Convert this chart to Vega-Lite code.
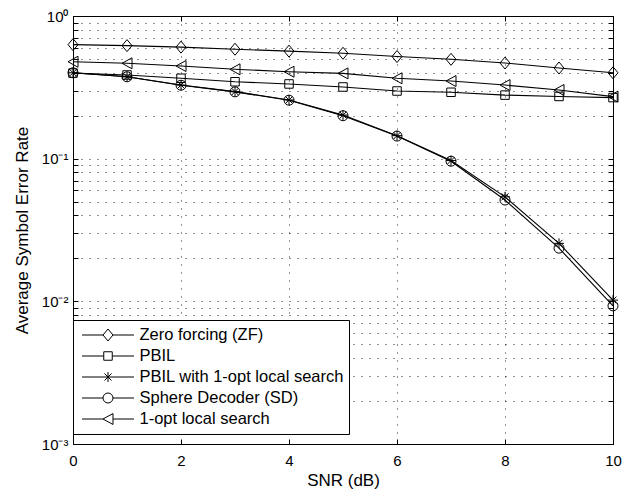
{
  "$schema": "https://vega.github.io/schema/vega-lite/v6.json",
  "width": 540,
  "height": 428,
  "autosize": {"type": "none"},
  "padding": {"left": 73, "top": 16, "right": 9, "bottom": 52},
  "background": "white",
  "config": {
    "view": {"stroke": "black", "strokeWidth": 1},
    "font": "Liberation Sans",
    "axis": {
      "labelFont": "Liberation Sans",
      "labelFontSize": 15,
      "labelColor": "black",
      "titleFont": "Liberation Sans",
      "titleFontSize": 17,
      "titleFontWeight": "normal",
      "titleColor": "black",
      "domainColor": "black",
      "tickColor": "black",
      "tickSize": -5,
      "labelFlush": false,
      "labelOverlap": false,
      "gridColor": "#000000",
      "gridOpacity": 0.85,
      "gridDash": [1, 7],
      "gridWidth": 1
    }
  },
  "data": {
    "values": [
      {"snr": 0, "series": "Zero forcing (ZF)", "ser": 0.63},
      {"snr": 1, "series": "Zero forcing (ZF)", "ser": 0.62},
      {"snr": 2, "series": "Zero forcing (ZF)", "ser": 0.605},
      {"snr": 3, "series": "Zero forcing (ZF)", "ser": 0.585},
      {"snr": 4, "series": "Zero forcing (ZF)", "ser": 0.567},
      {"snr": 5, "series": "Zero forcing (ZF)", "ser": 0.548},
      {"snr": 6, "series": "Zero forcing (ZF)", "ser": 0.52},
      {"snr": 7, "series": "Zero forcing (ZF)", "ser": 0.497},
      {"snr": 8, "series": "Zero forcing (ZF)", "ser": 0.468},
      {"snr": 9, "series": "Zero forcing (ZF)", "ser": 0.432},
      {"snr": 10, "series": "Zero forcing (ZF)", "ser": 0.4},
      {"snr": 0, "series": "PBIL", "ser": 0.398},
      {"snr": 1, "series": "PBIL", "ser": 0.386},
      {"snr": 2, "series": "PBIL", "ser": 0.366},
      {"snr": 3, "series": "PBIL", "ser": 0.346},
      {"snr": 4, "series": "PBIL", "ser": 0.334},
      {"snr": 5, "series": "PBIL", "ser": 0.318},
      {"snr": 6, "series": "PBIL", "ser": 0.298},
      {"snr": 7, "series": "PBIL", "ser": 0.292},
      {"snr": 8, "series": "PBIL", "ser": 0.279},
      {"snr": 9, "series": "PBIL", "ser": 0.273},
      {"snr": 10, "series": "PBIL", "ser": 0.268},
      {"snr": 0, "series": "PBIL with 1-opt local search", "ser": 0.4},
      {"snr": 1, "series": "PBIL with 1-opt local search", "ser": 0.375},
      {"snr": 2, "series": "PBIL with 1-opt local search", "ser": 0.328},
      {"snr": 3, "series": "PBIL with 1-opt local search", "ser": 0.295},
      {"snr": 4, "series": "PBIL with 1-opt local search", "ser": 0.258},
      {"snr": 5, "series": "PBIL with 1-opt local search", "ser": 0.202},
      {"snr": 6, "series": "PBIL with 1-opt local search", "ser": 0.145},
      {"snr": 7, "series": "PBIL with 1-opt local search", "ser": 0.097},
      {"snr": 8, "series": "PBIL with 1-opt local search", "ser": 0.054},
      {"snr": 9, "series": "PBIL with 1-opt local search", "ser": 0.0255},
      {"snr": 10, "series": "PBIL with 1-opt local search", "ser": 0.0102},
      {"snr": 0, "series": "Sphere Decoder (SD)", "ser": 0.4},
      {"snr": 1, "series": "Sphere Decoder (SD)", "ser": 0.375},
      {"snr": 2, "series": "Sphere Decoder (SD)", "ser": 0.327},
      {"snr": 3, "series": "Sphere Decoder (SD)", "ser": 0.294},
      {"snr": 4, "series": "Sphere Decoder (SD)", "ser": 0.257},
      {"snr": 5, "series": "Sphere Decoder (SD)", "ser": 0.2},
      {"snr": 6, "series": "Sphere Decoder (SD)", "ser": 0.144},
      {"snr": 7, "series": "Sphere Decoder (SD)", "ser": 0.096},
      {"snr": 8, "series": "Sphere Decoder (SD)", "ser": 0.0513},
      {"snr": 9, "series": "Sphere Decoder (SD)", "ser": 0.0236},
      {"snr": 10, "series": "Sphere Decoder (SD)", "ser": 0.0093},
      {"snr": 0, "series": "1-opt local search", "ser": 0.478},
      {"snr": 1, "series": "1-opt local search", "ser": 0.466},
      {"snr": 2, "series": "1-opt local search", "ser": 0.446},
      {"snr": 3, "series": "1-opt local search", "ser": 0.423},
      {"snr": 4, "series": "1-opt local search", "ser": 0.407},
      {"snr": 5, "series": "1-opt local search", "ser": 0.396},
      {"snr": 6, "series": "1-opt local search", "ser": 0.366},
      {"snr": 7, "series": "1-opt local search", "ser": 0.35},
      {"snr": 8, "series": "1-opt local search", "ser": 0.328},
      {"snr": 9, "series": "1-opt local search", "ser": 0.303},
      {"snr": 10, "series": "1-opt local search", "ser": 0.272}
    ]
  },
  "resolve": {"axis": {"x": "independent", "y": "independent"}, "scale": {"shape": "independent"}},
  "layer": [
    {
      "mark": {"type": "line", "color": "black", "strokeWidth": 1.1},
      "encoding": {
        "x": {
          "field": "snr", "type": "quantitative",
          "scale": {"domain": [0, 10], "nice": false},
          "axis": {"orient": "bottom", "values": [0, 2, 4, 6, 8, 10], "grid": true, "labelPadding": 14, "title": "SNR (dB)", "titlePadding": 4}
        },
        "y": {
          "field": "ser", "type": "quantitative",
          "scale": {"type": "log", "domain": [0.001, 1], "nice": false},
          "axis": {
            "orient": "left",
            "values": [0.001, 0.002, 0.003, 0.004, 0.005, 0.006, 0.007, 0.008, 0.009, 0.01, 0.02, 0.03, 0.04, 0.05, 0.06, 0.07, 0.08, 0.09, 0.1, 0.2, 0.3, 0.4, 0.5, 0.6, 0.7, 0.8, 0.9, 1],
            "labelExpr": "datum.value == 1 ? '10⁰' : datum.value == 0.1 ? '10⁻¹' : datum.value == 0.01 ? '10⁻²' : datum.value == 0.001 ? '10⁻³' : ''",
            "grid": true,
            "labelPadding": 10,
            "title": "Average Symbol Error Rate",
            "titlePadding": 10
          }
        },
        "detail": {"field": "series"}
      }
    },
    {
      "mark": {"type": "point", "filled": false, "stroke": "black", "strokeWidth": 1, "size": 100, "opacity": 1},
      "encoding": {
        "x": {
          "field": "snr", "type": "quantitative",
          "axis": {"orient": "top", "values": [0, 2, 4, 6, 8, 10], "labels": false, "grid": false, "domain": false, "title": null}
        },
        "y": {
          "field": "ser", "type": "quantitative",
          "axis": {
            "orient": "right",
            "values": [0.001, 0.002, 0.003, 0.004, 0.005, 0.006, 0.007, 0.008, 0.009, 0.01, 0.02, 0.03, 0.04, 0.05, 0.06, 0.07, 0.08, 0.09, 0.1, 0.2, 0.3, 0.4, 0.5, 0.6, 0.7, 0.8, 0.9, 1],
            "labels": false, "grid": false, "domain": false, "title": null
          }
        },
        "shape": {
          "field": "series", "type": "nominal",
          "scale": {
            "domain": ["Zero forcing (ZF)", "PBIL", "PBIL with 1-opt local search", "Sphere Decoder (SD)", "1-opt local search"],
            "range": [
              "M0,-1.2L1,0L0,1.2L-1,0Z",
              "M-0.85,-0.85H0.85V0.85H-0.85Z",
              "M-1,0H1M0,-1V1M-0.7,-0.7L0.7,0.7M-0.7,0.7L0.7,-0.7",
              "circle",
              "M-1,0L1,-1.1L1,1.1Z"
            ]
          },
          "legend": null
        }
      }
    },
    {
      "mark": {"type": "point", "filled": false, "stroke": "black", "strokeWidth": 1, "size": 100, "opacity": 0},
      "encoding": {
        "x": {"field": "snr", "type": "quantitative", "axis": null},
        "y": {"field": "ser", "type": "quantitative", "axis": null},
        "shape": {
          "field": "series", "type": "nominal",
          "scale": {
            "domain": ["Zero forcing (ZF)", "PBIL", "PBIL with 1-opt local search", "Sphere Decoder (SD)", "1-opt local search"],
            "range": [
              "M-1,0H-0.192M0.192,0H1M0,-0.23L0.192,0L0,0.23L-0.192,0Z",
              "M-1,0H-0.163M0.163,0H1M-0.163,-0.163H0.163V0.163H-0.163Z",
              "M-1,0H1M0,-0.192V0.192M-0.136,-0.136L0.136,0.136M-0.136,0.136L0.136,-0.136",
              "M-1,0H-0.192M0.192,0H1M0.192,0A0.192,0.192,0,1,1,-0.192,0A0.192,0.192,0,1,1,0.192,0Z",
              "M-1,0H-0.192M0.192,0H1M-0.192,0L0.192,-0.21L0.192,0.21Z"
            ]
          },
          "legend": {
            "title": null,
            "orient": "none",
            "legendX": 0,
            "legendY": 304,
            "strokeColor": "black",
            "fillColor": "white",
            "padding": 4.5,
            "cornerRadius": 0,
            "clipHeight": 21,
            "rowPadding": 0,
            "symbolSize": 2704,
            "symbolOffset": 4,
            "symbolOpacity": 1,
            "symbolStrokeColor": "black",
            "symbolFillColor": "transparent",
            "symbolStrokeWidth": 1,
            "labelOffset": 5,
            "labelLimit": 0,
            "labelFont": "Liberation Sans",
            "labelFontSize": 16.5,
            "labelColor": "black",
            "symbolLimit": 0
          }
        }
      }
    }
  ]
}
